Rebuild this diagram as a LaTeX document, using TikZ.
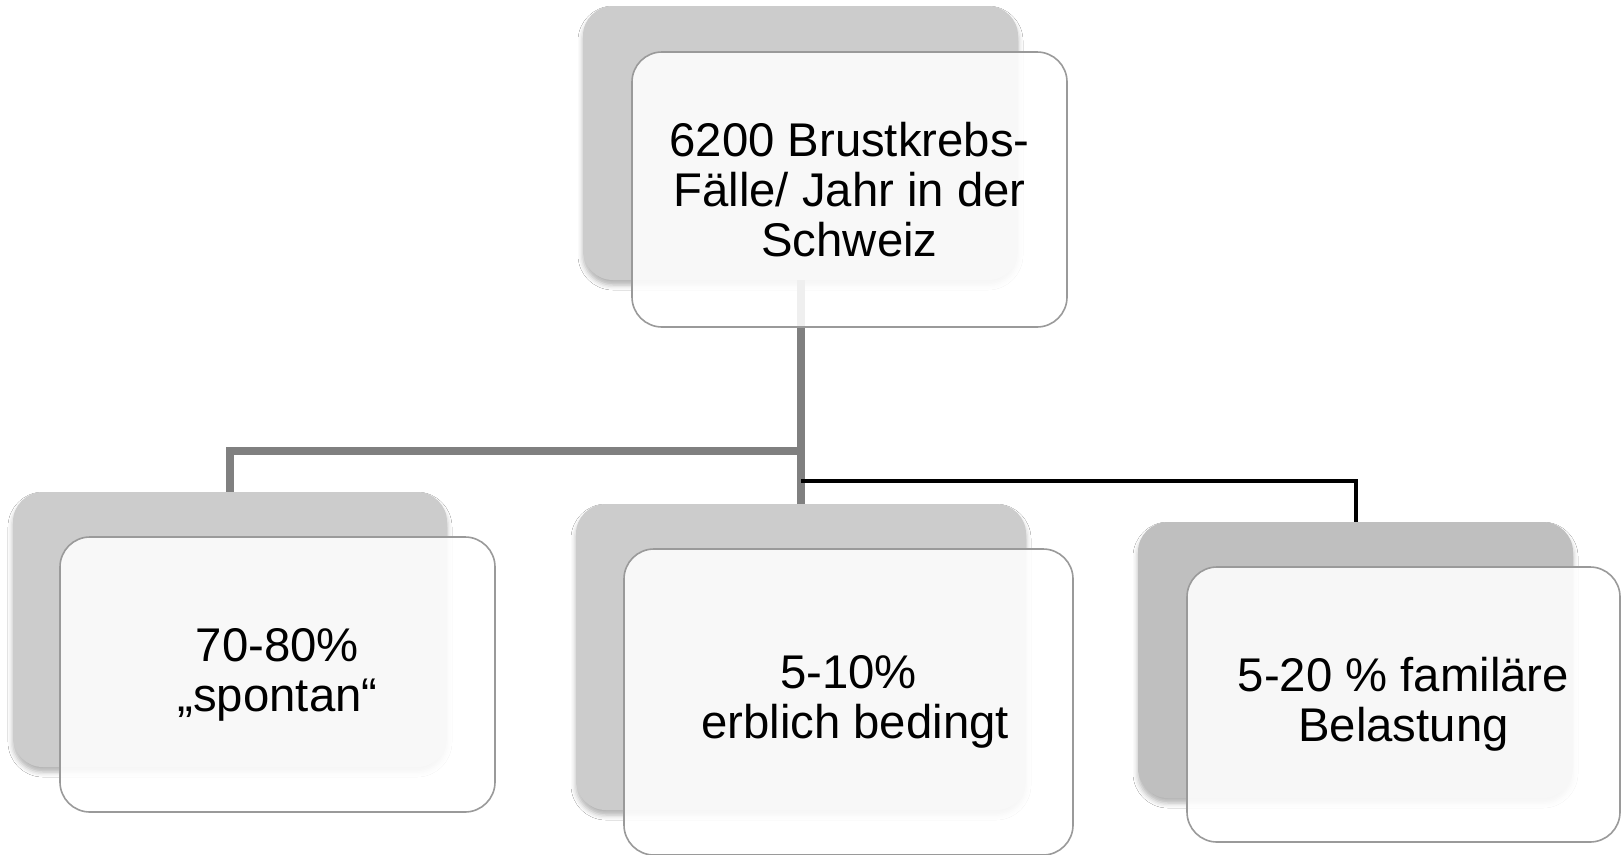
\documentclass[tikz,border=0pt]{standalone}
\usepackage{fontspec}
\setmainfont{Liberation Sans}
\usetikzlibrary{shadows.blur}
\definecolor{backgray}{HTML}{CCCCCC}
\definecolor{backgraydark}{HTML}{BFBFBF}
\definecolor{linegray}{HTML}{808080}
\definecolor{bordergray}{HTML}{9A9A9A}
\tikzset{
  backbox/.style={rectangle, rounded corners=30pt, fill=backgray, draw=none, inner sep=0pt,
    blur shadow={shadow xshift=0pt, shadow yshift=-5pt, shadow blur radius=5pt, shadow opacity=30}},
  frontbox/.style={rectangle, rounded corners=30pt, fill=white, fill opacity=0.88, text opacity=1,
    draw=bordergray, line width=1.6pt, inner sep=0pt, align=center,
    font=\fontsize{47.3pt}{50pt}\selectfont},
  conngray/.style={draw=linegray, line width=8pt},
  connblack/.style={draw=black, line width=4pt},
}
\begin{document}
\begin{tikzpicture}[x=1pt, y=-1pt]
\fill[white] (0,0) rectangle (1624,854);
\useasboundingbox (0,0) rectangle (1624,854);
% back boxes
\node[backbox, minimum width=435pt, minimum height=274pt] (tb) at (800.5,143) {};
\node[backbox, minimum width=434pt, minimum height=275pt] (lb) at (230,629.5) {};
\node[backbox, minimum width=450pt, minimum height=306pt] (mb) at (801,657) {};
\node[backbox, fill=backgraydark, minimum width=435pt, minimum height=276pt] (rb) at (1355.5,660) {};
% connectors
\coordinate (j1) at (801,451);
\coordinate (j2) at (801,481);
\draw[conngray] (tb.south -| j1) -- (j1) -| (lb.north);
\draw[conngray] (tb.south -| j1) -- (mb.north -| j1);
\draw[connblack] (j2) -| (rb.north);
% front boxes
\node[frontbox, minimum width=435pt, minimum height=275pt] (tf) at (849.5,189.5) {6200 Brustkrebs-\\Fälle/ Jahr in der\\Schweiz};
\node[frontbox, minimum width=435pt, minimum height=275pt] (lf) at (277.5,674.5) {70-80\%\\„spontan“};
\node[frontbox, minimum width=449pt, minimum height=306pt] (mf) at (848.5,702) {5-10\%\\\ erblich bedingt};
\node[frontbox, minimum width=433pt, minimum height=275pt] (rf) at (1403.5,704.5) {5-20 \% familäre\\Belastung};
\end{tikzpicture}
\end{document}
